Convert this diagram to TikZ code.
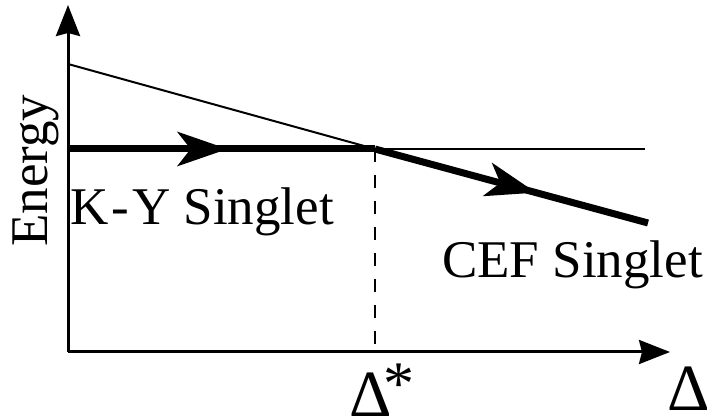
\documentclass[tikz,border=0pt]{standalone}
\usepackage{fontspec}
\setmainfont{Liberation Serif}
\usetikzlibrary{arrows.meta,decorations.markings}
\tikzset{
  axisline/.style={line width=3pt},
  levelline/.style={line width=2pt},
  flowline/.style={line width=7pt},
  guideline/.style={line width=2pt, dash pattern=on 13pt off 13pt},
  axistip/.style={-{Stealth[length=31pt,width=24pt,inset=3pt]}},
  midarrow/.style={postaction={decorate},
    decoration={markings, mark=at position #1 with
      {\arrow{Stealth[length=50pt,width=34pt,inset=13pt]}}}},
  lab/.style={font=\fontsize{53}{60}\selectfont, inner sep=0pt},
  biglab/.style={font=\fontsize{66}{72}\selectfont, inner sep=0pt},
}
\begin{document}
\begin{tikzpicture}[x=1pt,y=-1pt]
\useasboundingbox (0,0) rectangle (712,419);
% key points
\coordinate (O) at (68,352);
\coordinate (Ytop) at (68,5);
\coordinate (Xtip) at (670,352);
\coordinate (Cstart) at (68,64);
\coordinate (Kstart) at (68,149);
\coordinate (X) at (375,149);
\coordinate (Kend) at (645,149);
\coordinate (Cend) at (648,223);
\coordinate (Xfoot) at (375,352);
% axes
\draw[axisline, axistip] (O) -- (Ytop);
\draw[axisline, axistip] (O) -- (Xtip);
% energy levels
\draw[levelline] (Cstart) -- (X);
\draw[levelline] (X) -- (Kend);
\draw[guideline] (X) -- (Xfoot);
% ground state path
\draw[flowline, midarrow=0.52] (Kstart) -- (X);
\draw[flowline, midarrow=0.59] (X) -- (Cend);
% labels
\node[lab, rotate=90, anchor=base west] (energy) at (47,247) {Energy};
\node[lab, anchor=base west] (ky) at (70,225) {K\kern3pt-\kern3pt Y Singlet};
\node[lab, anchor=base west] (cef) at (442,278) {CEF Singlet};
\node[biglab, anchor=base west] (dstar) at (349,416)
  {Δ\kern-8pt\raisebox{12pt}{\fontsize{62}{66}\selectfont *}};
\node[biglab, anchor=base west] (delta) at (667,410) {Δ};
\end{tikzpicture}
\end{document}
